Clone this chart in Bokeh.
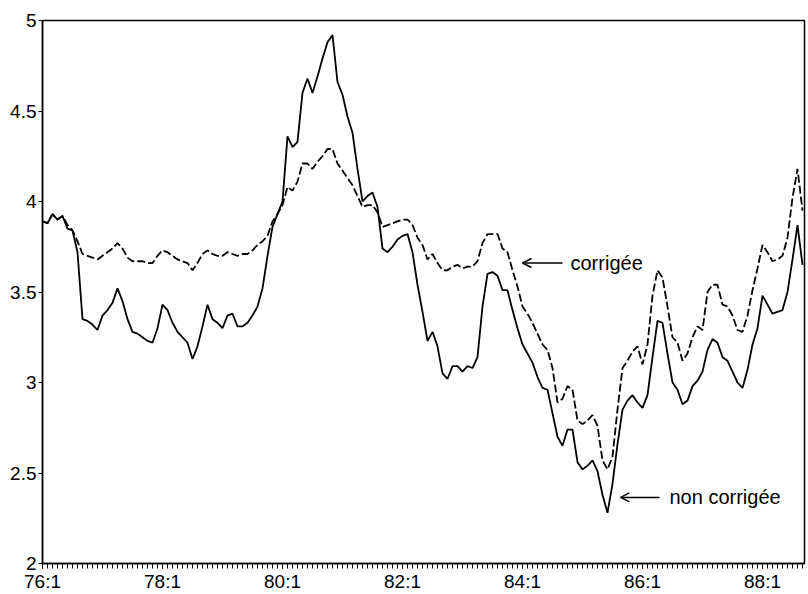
from bokeh.plotting import figure
from bokeh.models import Range1d, FixedTicker, Arrow, OpenHead, Label
from bokeh.embed import file_html
from bokeh.resources import INLINE

# monthly index: 0 = 76:1 ... 152 = 88:9
non_corrigee = [
    3.89, 3.88, 3.93, 3.90, 3.92, 3.85, 3.84, 3.72, 3.35, 3.34,
    3.32, 3.29, 3.37, 3.40, 3.44, 3.52, 3.45, 3.35, 3.28, 3.27,
    3.25, 3.23, 3.22, 3.30, 3.43, 3.40, 3.33, 3.28, 3.25, 3.22,
    3.13, 3.20, 3.31, 3.43, 3.35, 3.33, 3.30, 3.37, 3.38, 3.31,
    3.31, 3.33, 3.37, 3.42, 3.52, 3.70, 3.86, 3.93, 4.00, 4.36,
    4.30, 4.33, 4.60, 4.68, 4.60, 4.69, 4.79, 4.88, 4.92, 4.66,
    4.59, 4.47, 4.38, 4.18, 4.00, 4.03, 4.05, 3.97, 3.74, 3.72,
    3.75, 3.79, 3.81, 3.82, 3.72, 3.54, 3.39, 3.23, 3.28, 3.20,
    3.05, 3.02, 3.09, 3.09, 3.06, 3.09, 3.08, 3.14, 3.42, 3.60,
    3.61, 3.59, 3.51, 3.51, 3.40, 3.30, 3.21, 3.16, 3.11, 3.03,
    2.97, 2.96, 2.83, 2.70, 2.65, 2.74, 2.74, 2.56, 2.52, 2.54,
    2.57, 2.51, 2.38, 2.28, 2.44, 2.66, 2.85, 2.90, 2.93, 2.89,
    2.86, 2.93, 3.14, 3.34, 3.33, 3.16, 3.00, 2.96, 2.88, 2.90,
    2.98, 3.01, 3.06, 3.18, 3.24, 3.22, 3.14, 3.12, 3.06, 3.00,
    2.97, 3.07, 3.21, 3.30, 3.48, 3.43, 3.38, 3.39, 3.40, 3.50,
    3.68, 3.87, 3.65,
]
corrigee = [
    3.89, 3.88, 3.93, 3.90, 3.92, 3.87, 3.84, 3.78, 3.71, 3.70,
    3.69, 3.68, 3.70, 3.72, 3.74, 3.77, 3.74, 3.69, 3.67, 3.67,
    3.67, 3.66, 3.66, 3.70, 3.73, 3.72, 3.70, 3.68, 3.67, 3.66,
    3.62, 3.66, 3.71, 3.73, 3.71, 3.70, 3.70, 3.72, 3.71, 3.70,
    3.71, 3.71, 3.73, 3.76, 3.78, 3.81, 3.89, 3.93, 3.98, 4.08,
    4.06, 4.11, 4.21, 4.21, 4.18, 4.22, 4.25, 4.29, 4.29, 4.21,
    4.17, 4.13, 4.09, 4.03, 3.97, 3.98, 3.98, 3.94, 3.86, 3.87,
    3.88, 3.89, 3.90, 3.90, 3.87, 3.80, 3.76, 3.68, 3.71, 3.66,
    3.62, 3.62, 3.64, 3.65, 3.63, 3.64, 3.64, 3.67, 3.77, 3.82,
    3.82, 3.82, 3.74, 3.72, 3.62, 3.53, 3.42, 3.38, 3.33, 3.27,
    3.21, 3.18, 3.08, 2.89, 2.91, 2.98, 2.96, 2.79, 2.77, 2.79,
    2.82, 2.76, 2.57, 2.52, 2.59, 2.85, 3.08, 3.12, 3.17, 3.20,
    3.10, 3.21, 3.48, 3.62, 3.58, 3.42, 3.25, 3.22, 3.12, 3.16,
    3.25, 3.31, 3.29, 3.50, 3.54, 3.54, 3.43, 3.42, 3.37, 3.29,
    3.28, 3.37, 3.51, 3.63, 3.76, 3.72, 3.67, 3.68, 3.70, 3.80,
    4.02, 4.18, 3.95,
]
months = list(range(len(non_corrigee)))
x_tick_pos = [0, 24, 48, 72, 96, 120, 144]
x_tick_labels = ["76:1", "78:1", "80:1", "82:1", "84:1", "86:1", "88:1"]
y_ticks = [2, 2.5, 3, 3.5, 4, 4.5, 5]
y_tick_labels = ["2", "2.5", "3", "3.5", "4", "4.5", "5"]

FONT = "Liberation Sans"

p = figure(frame_width=762, frame_height=543, output_backend="svg", toolbar_location=None,
           x_range=Range1d(0, 152.4), y_range=Range1d(2, 5),
           min_border_left=42, min_border_top=20, min_border_right=3, min_border_bottom=30)
p.xgrid.visible = False
p.ygrid.visible = False
p.outline_line_color = "black"
p.outline_line_width = 1.5
p.background_fill_color = "white"

p.line(months, non_corrigee, line_color="black", line_width=1.8)
p.line(months, corrigee, line_color="black", line_width=1.8, line_dash="8 3")

p.xaxis.ticker = FixedTicker(ticks=x_tick_pos, minor_ticks=months)
p.xaxis.major_label_overrides = dict(zip(x_tick_pos, x_tick_labels))
p.yaxis.ticker = FixedTicker(ticks=y_ticks, minor_ticks=[])
p.yaxis.major_label_overrides = dict(zip(y_ticks, y_tick_labels))

for ax in (p.xaxis[0], p.yaxis[0]):
    ax.axis_line_color = "black"
    ax.axis_line_width = 1.5
    ax.major_tick_line_color = "black"
    ax.minor_tick_line_color = "black"
    ax.major_tick_in = 0
    ax.minor_tick_in = 0
    ax.major_label_text_font = FONT
    ax.major_label_text_font_size = "19px"
    ax.major_label_text_color = "black"

p.xaxis.major_tick_out = 5
p.xaxis.minor_tick_out = 5
p.xaxis.major_label_standoff = 2
p.yaxis.major_tick_out = 4
p.yaxis.major_label_standoff = 2

p.add_layout(Arrow(end=OpenHead(size=9, line_width=1.5, line_color="black"),
                   x_start=104.0, y_start=3.66, x_end=96.0, y_end=3.66,
                   line_width=1.5, line_color="black"))
p.add_layout(Label(x=105.6, y=3.66, text="corrigée", text_font=FONT,
                   text_font_size="20px", text_baseline="middle", text_color="black"))
p.add_layout(Arrow(end=OpenHead(size=9, line_width=1.5, line_color="black"),
                   x_start=123.4, y_start=2.365, x_end=115.6, y_end=2.365,
                   line_width=1.5, line_color="black"))
p.add_layout(Label(x=125.4, y=2.365, text="non corrigée", text_font=FONT,
                   text_font_size="20px", text_baseline="middle", text_color="black"))

open("out.html", "w").write(file_html(p, INLINE))
